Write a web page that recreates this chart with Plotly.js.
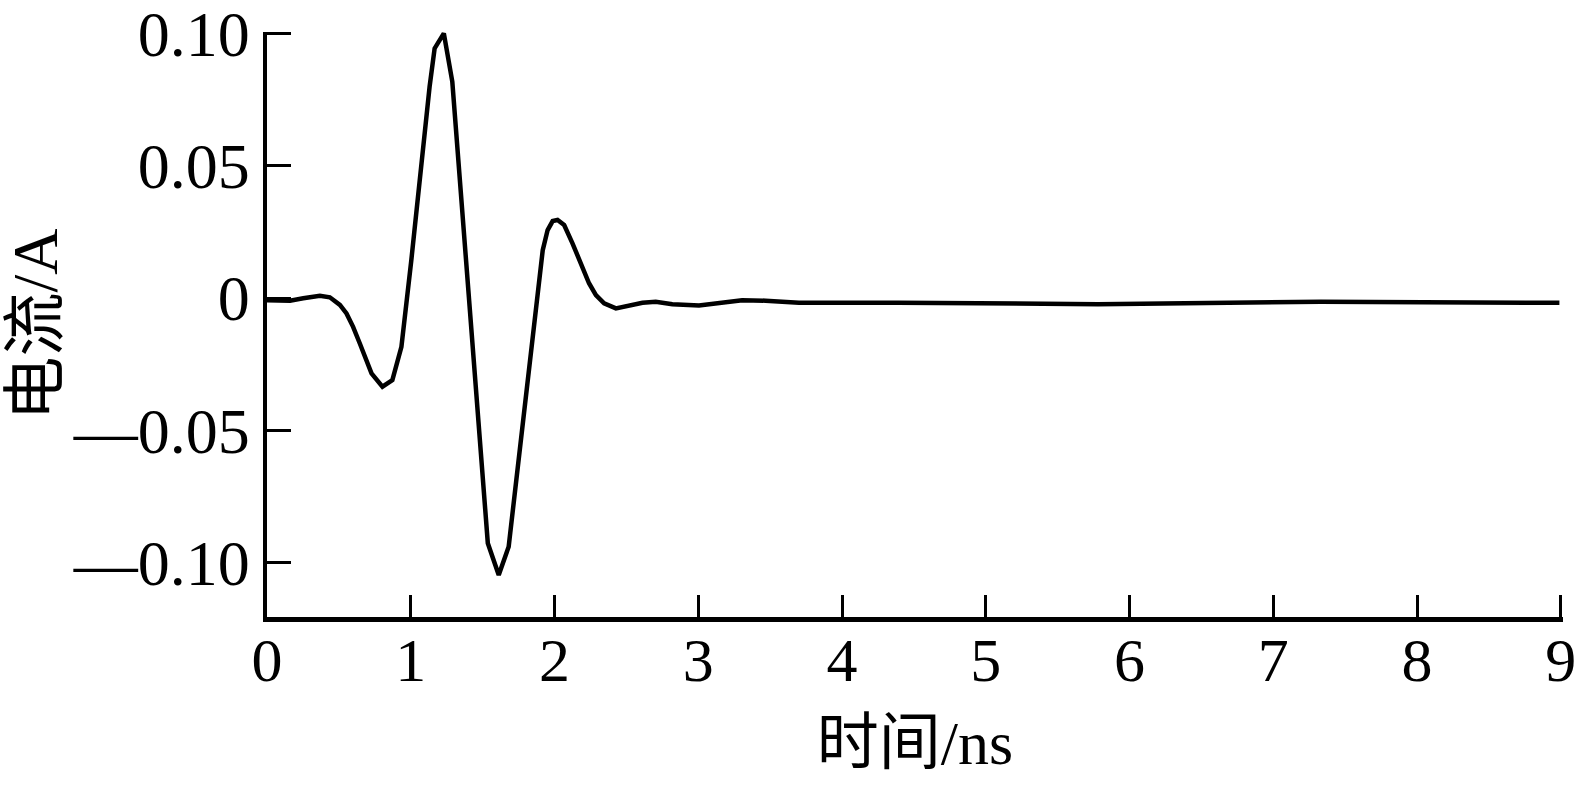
<!DOCTYPE html>
<html>
<head>
<meta charset="utf-8">
<script src="https://cdn.plot.ly/plotly-3.0.1.min.js"></script>
<style>html,body{margin:0;padding:0;background:#fff;}#chart{width:1579px;height:785px;}</style>
</head>
<body>
<div id="chart"></div>
<script>
// time in ns
const timeNs = [0, 0.16, 0.252, 0.368, 0.437, 0.507, 0.553, 0.599, 0.645, 0.727, 0.803, 0.872, 0.935, 1.004, 1.131, 1.166, 1.23, 1.289, 1.536, 1.612, 1.681, 1.874, 1.918, 1.952, 1.987, 2.021, 2.067, 2.125, 2.184, 2.24, 2.288, 2.345, 2.427, 2.519, 2.612, 2.704, 2.82, 3.005, 3.167, 3.305, 3.468, 3.7, 4.39, 5.78, 7.33, 8.99];
// current in A
const currentA = [-0.0008, -0.001, -0.0001, 0.0009, 0.0003, -0.0026, -0.0058, -0.0109, -0.0171, -0.0285, -0.0335, -0.031, -0.0184, 0.0144, 0.0799, 0.0944, 0.1001, 0.0818, -0.0927, -0.1047, -0.094, -0.0008, 0.0181, 0.0257, 0.0291, 0.0295, 0.0276, 0.0207, 0.0131, 0.0056, 0.0011, -0.002, -0.0039, -0.003, -0.0018, -0.0014, -0.0023, -0.0028, -0.0016, -0.0008, -0.001, -0.0018, -0.0018, -0.0023, -0.0014, -0.0018];

const xTickVals = [0, 1, 2, 3, 4, 5, 6, 7, 8, 9];
const xTickText = ["0", "1", "2", "3", "4", "5", "6", "7", "8", "9"];
const yTickVals = [-0.10, -0.05, 0, 0.05, 0.10];
const yTickText = ["—0.10", "—0.05", "0", "0.05", "0.10"];
const xTitle = "时间/ns";
const yTitle = "电流/A";

const FONT = "Liberation Serif, 'Times New Roman', 'Noto Sans CJK SC', serif";

const trace = {
  x: timeNs,
  y: currentA,
  type: "scatter",
  mode: "lines",
  line: {color: "#000", width: 4.5},
  hoverinfo: "skip"
};

const layout = {
  width: 1579,
  height: 785,
  margin: {l: 267, r: 16, t: 32, b: 168},
  paper_bgcolor: "#fff",
  plot_bgcolor: "#fff",
  showlegend: false,
  font: {family: FONT, color: "#000", size: 64},
  xaxis: {
    range: [0, 9.015],
    tickvals: xTickVals,
    ticktext: xTickText,
    ticks: "inside",
    ticklen: 22,
    tickwidth: 3,
    tickcolor: "#000",
    showline: true,
    linewidth: 4.5,
    linecolor: "#000",
    showgrid: false,
    zeroline: false,
    tickfont: {family: FONT, size: 62, color: "#000"},
    ticklabelstandoff: -15,
    ticklabeloverflow: "allow",
    title: {text: xTitle, font: {family: FONT, size: 62, color: "#000"}, standoff: 29},
    automargin: false
  },
  yaxis: {
    range: [-0.1206, 0.1006],
    tickvals: yTickVals,
    ticktext: yTickText,
    ticks: "inside",
    ticklen: 24,
    tickwidth: 3,
    tickcolor: "#000",
    showline: true,
    linewidth: 4.5,
    linecolor: "#000",
    showgrid: false,
    zeroline: false,
    tickfont: {family: FONT, size: 64, color: "#000"},
    ticklabelstandoff: 0,
    ticklabeloverflow: "allow",
    title: {text: yTitle, font: {family: FONT, size: 64, color: "#000"}, standoff: 14},
    automargin: false
  }
};

Plotly.newPlot("chart", [trace], layout, {staticPlot: true, displayModeBar: false});
</script>
</body>
</html>
